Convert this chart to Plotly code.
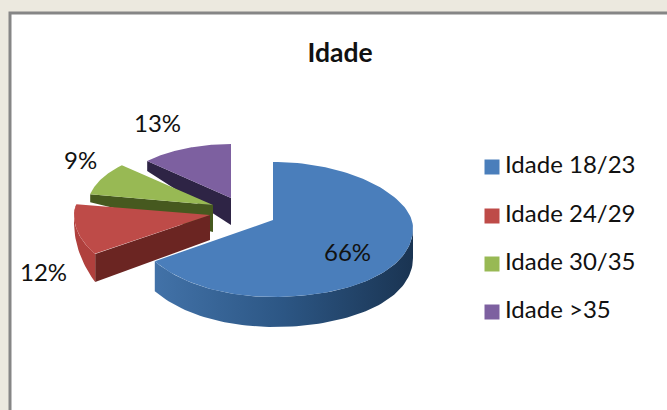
"""Idade pie, exploded 3D look drawn as filled polygons."""
import numpy as np
import plotly.graph_objects as go

categories = ["Idade 18/23", "Idade 24/29", "Idade 30/35", "Idade >35"]
values = [66, 12, 9, 13]
colors = ["#4a7ebb", "#be4b48", "#98b954", "#7d60a0"]
wall_colors = ["#2f5a8a", "#6b2522", "#46591f", "#2e2445"]

W, H = 667, 410
# tip x, tip y, rx, ry up, ry down, wall height at rim, wall height at tip
geom = [
    (273, 220, 140, 58, 77, 30, 30),
    (210, 215, 136, 58, 73, 28, 25),
    (213, 205, 125, 58, 77, 8, 27),
    (231, 198, 115, 54, 77, 10, 27),
]
label_pos = [(347, 251), (43, 271), (80, 159), (157, 122)]
legend_y = [167, 216, 264, 312]


def rim(g, a):
    x0, y0, rx, up, down = g[:5]
    c = np.cos(a)
    # right side of the ellipse sits a little lower, as in a perspective view
    bulge = 8 * np.maximum(np.sin(a), 0) ** 2
    return x0 + rx * np.sin(a), y0 - c * np.where(c > 0, up, down) + bulge


def poly(x, y, color, grad=None):
    kw = dict(fillgradient=dict(type="horizontal", colorscale=grad)) if grad else dict(fillcolor=color)
    return go.Scatter(x=np.r_[x, x[0]], y=np.r_[y, y[0]], mode="lines", fill="toself",
                      line=dict(width=0, color=color), hoverinfo="skip",
                      showlegend=False, **kw)


edges = np.r_[0, np.cumsum(values)] / sum(values) * 2 * np.pi
fig = go.Figure()

# back to front so the near slices cover the far ones
for i in [3, 2, 1, 0]:
    g = geom[i]
    a0, a1 = edges[i], edges[i + 1]
    rim_h, tip_h = g[5], g[6]
    if i == 0:
        a = np.linspace(np.pi / 2, a1, 80)
        x, y = rim(g, a)
        fig.add_trace(poly(np.r_[x, x[::-1]], np.r_[y, y[::-1] + rim_h], wall_colors[0],
                           grad=[[0, "#4272a8"], [0.5, "#2c5684"], [1, "#1a3452"]]))
    else:
        # the cut face that looks at the viewer, then the rim for the red slice
        sx, sy = rim(g, a0)
        fig.add_trace(poly(np.array([g[0], sx, sx, g[0]]),
                           np.array([g[1], sy, sy + rim_h, g[1] + tip_h]), wall_colors[i]))
        if i == 1:
            a = np.linspace(a0, a1, 30)
            x, y = rim(g, a)
            h = np.linspace(rim_h, 0, 30)
            fig.add_trace(poly(np.r_[x, x[::-1]], np.r_[y, (y + h)[::-1]], "#b0403d"))
    a = np.linspace(a0, a1, 120)
    x, y = rim(g, a)
    fig.add_trace(poly(np.r_[g[0], x], np.r_[g[1], y], colors[i]))

# legend swatches and names
fig.add_trace(go.Scatter(x=[492] * 4, y=legend_y, mode="markers",
                         marker=dict(symbol="square", size=15, color=colors),
                         hoverinfo="skip", showlegend=False))
fig.add_trace(go.Scatter(x=[505] * 4, y=legend_y, mode="text", text=categories,
                         textposition="middle right",
                         textfont=dict(family="Lato", size=24, color="#111111"),
                         hoverinfo="skip", showlegend=False))

for (lx, ly), v in zip(label_pos, values):
    fig.add_annotation(x=lx, y=ly, text=f"{v}%", showarrow=False,
                       font=dict(family="Lato", size=24, color="#111111"))

fig.add_shape(type="rect", x0=10, y0=13, x1=W + 20, y1=H + 20, layer="below",
              fillcolor="white", line=dict(color="#868686", width=3))

fig.update_layout(
    title=dict(text="<b>Idade</b>", x=340 / W, y=1 - 53 / H, xanchor="center", yanchor="middle",
               font=dict(family="Lato", size=26.5, color="#111111")),
    width=W, height=H, margin=dict(l=0, r=0, t=0, b=0),
    paper_bgcolor="#ece9df", plot_bgcolor="rgba(0,0,0,0)",
    xaxis=dict(range=[0, W], visible=False, fixedrange=True),
    yaxis=dict(range=[H, 0], visible=False, fixedrange=True),
)
fig.write_html("out.html", config=dict(displayModeBar=False),
               post_script="document.body.style.margin = '0';")
